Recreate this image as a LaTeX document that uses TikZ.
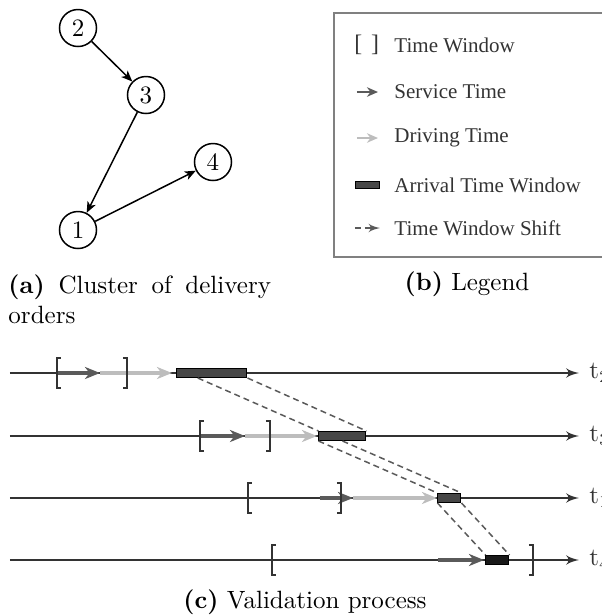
\documentclass[tikz,border=0pt]{standalone}
\usepackage{fontspec}
\newfontfamily\legfont{Liberation Serif}
\usepackage{tikz}
\usetikzlibrary{shapes, arrows, arrows.meta, positioning, calc}
\definecolor{ink}{HTML}{333333}
\definecolor{servc}{HTML}{5A5A5A}
\definecolor{drivc}{HTML}{BDBDBD}
\definecolor{boxc}{HTML}{474747}
\tikzstyle{city}   = [draw, circle, line width=0.6pt, minimum size=14.8pt, inner sep=0pt]
\tikzstyle{route}  = [draw, line width=0.6pt, -{Stealth[length=4.4pt, width=3.6pt, inset=1.2pt]}]
\tikzstyle{axis}   = [draw=ink, line width=0.8pt, -latex']
\tikzstyle{serv}   = [draw=servc, line width=1.3pt, -{Stealth[length=6pt, width=4.8pt, inset=1.8pt]}]
\tikzstyle{driv}   = [draw=drivc, line width=1.3pt, -{Stealth[length=6pt, width=4.8pt, inset=1.8pt]}]
\tikzstyle{brk}    = [draw=ink, line width=0.8pt]
\tikzstyle{arrwin} = [draw=black, fill=boxc, line width=0.4pt, rectangle, inner sep=0pt, minimum height=3.6pt]
\tikzstyle{wshift} = [draw=servc, dash pattern=on 2.4pt off 1.6pt, line width=0.6pt]
\tikzstyle{leg}    = [anchor=west, inner sep=0pt, text=ink, font=\legfont\fontsize{8.4}{10}\selectfont]
\tikzstyle{lbl}    = [anchor=west, inner sep=0pt, text=ink]
\newcommand{\opbr}[1]{\draw[brk] ([shift={(4,-15)}]#1) -- ++(-4,0) -- ++(0,30) -- ++(4,0);}
\newcommand{\clbr}[1]{\draw[brk] ([shift={(-4,-15)}]#1) -- ++(4,0) -- ++(0,30) -- ++(-4,0);}

\begin{document}
\begin{tikzpicture}[x=0.4pt, y=-0.4pt]
\useasboundingbox (0,0) rectangle (602,616);

% cluster
\node [city] at ( 78,  28) (n2) {2};
\node [city] at (146,  95) (n3) {3};
\node [city] at (213, 162) (n4) {4};
\node [city] at ( 78, 230) (n1) {1};

\path [route]
  (n2) edge (n3)
  (n3) edge (n1)
  (n1) edge (n4);

\node [anchor=north west, text width=105pt, align=justify, inner sep=0pt] at (8,274) (capa) {\textbf{(a)} Cluster of delivery orders};

% legend
\draw [draw=gray, line width=0.6pt] (610,13) -- (334,13) -- (334,257) -- (610,257);
\coordinate (ls0) at (357, 92);  \coordinate (ls1) at (378, 92);
\coordinate (ld0) at (357,138);  \coordinate (ld1) at (378,138);
\coordinate (lw0) at (355,228);  \coordinate (lw1) at (380,228);
\node [leg, font=\legfont\fontsize{9.5}{10}\selectfont] at (354, 45) (lbr) {[\hspace{3.5pt}]};
\path [serv, line width=0.9pt, -{Stealth[length=4.4pt, width=3.8pt, inset=1.4pt]}] (ls0) -- (ls1);
\path [driv, line width=0.9pt, -{Stealth[length=4.4pt, width=3.8pt, inset=1.4pt]}] (ld0) -- (ld1);
\node [arrwin, minimum width=9.6pt, minimum height=2.8pt] at (368,185) (lbx) {};
\path [wshift, -latex'] (lw0) -- (lw1);
\node [leg] at (394, 45) (tw) {Time Window};
\node [leg] at (394, 92) (st) {Service Time};
\node [leg] at (394,138) (dt) {Driving Time};
\node [leg] at (394,185) (aw) {Arrival Time Window};
\node [leg] at (394,228) (ws) {Time Window Shift};
\node at (467,284) (capb) {\textbf{(b)} Legend};

% time lines
\coordinate (s1) at (10,373);  \coordinate (e1) at (579,373);
\coordinate (s2) at (10,436);  \coordinate (e2) at (579,436);
\coordinate (s3) at (10,498);  \coordinate (e3) at (579,498);
\coordinate (s4) at (10,560);  \coordinate (e4) at (579,560);
\path [axis] (s1) -- (e1);
\path [axis] (s2) -- (e2);
\path [axis] (s3) -- (e3);
\path [axis] (s4) -- (e4);
\node [lbl] at (589,373) (l1) {t$_2$};
\node [lbl] at (589,436) (l2) {t$_3$};
\node [lbl] at (589,498) (l3) {t$_1$};
\node [lbl] at (589,560) (l4) {t$_4$};

% windows, service and driving
\coordinate (o1) at ( 57,373);  \coordinate (c1) at (127,373);
\coordinate (v1) at (100,373);  \coordinate (d1) at (172,373);
\coordinate (o2) at (200,436);  \coordinate (c2) at (270,436);
\coordinate (v2) at (245,436);  \coordinate (d2) at (317,436);
\coordinate (o3) at (248,498);  \coordinate (c3) at (341,498);
\coordinate (u3) at (320,498);  \coordinate (v3) at (353,498);  \coordinate (d3) at (437,498);
\coordinate (o4) at (272,560);  \coordinate (c4) at (533,560);
\coordinate (u4) at (438,560);  \coordinate (v4) at (484,560);
\path [driv] (v1) -- (d1);
\path [serv] (o1) -- (v1);
\path [driv] (v2) -- (d2);
\path [serv] (o2) -- (v2);
\path [driv] (v3) -- (d3);
\path [serv] (u3) -- (v3);
\path [serv] (u4) -- (v4);
\opbr{o1} \clbr{c1}
\opbr{o2} \clbr{c2}
\opbr{o3} \clbr{c3}
\opbr{o4} \clbr{c4}

% arrival windows
\node [arrwin, minimum width=28pt]  at (212  ,373) (w1) {};
\node [arrwin, minimum width=18.8pt] at (342.5,436) (w2) {};
\node [arrwin, minimum width=9.2pt] at (449.5,498) (w3) {};
\node [arrwin, minimum width=9.2pt, fill=black!90] at (497.5,560) (w4) {};

\path [wshift] ($(w1.south west)!0.3!(w1.south east)$) -- (w2.north west);
\path [wshift] (w1.south east) -- (w2.north east);
\path [wshift] (w2.south west) -- (w3.north west);
\path [wshift] (w2.south)      -- (w3.north east);
\path [wshift] (w3.south west) -- (w4.north west);
\path [wshift] (w3.south east) -- (w4.north east);

\node at (305,602) (capc) {\textbf{(c)} Validation process};

\end{tikzpicture}
\end{document}
